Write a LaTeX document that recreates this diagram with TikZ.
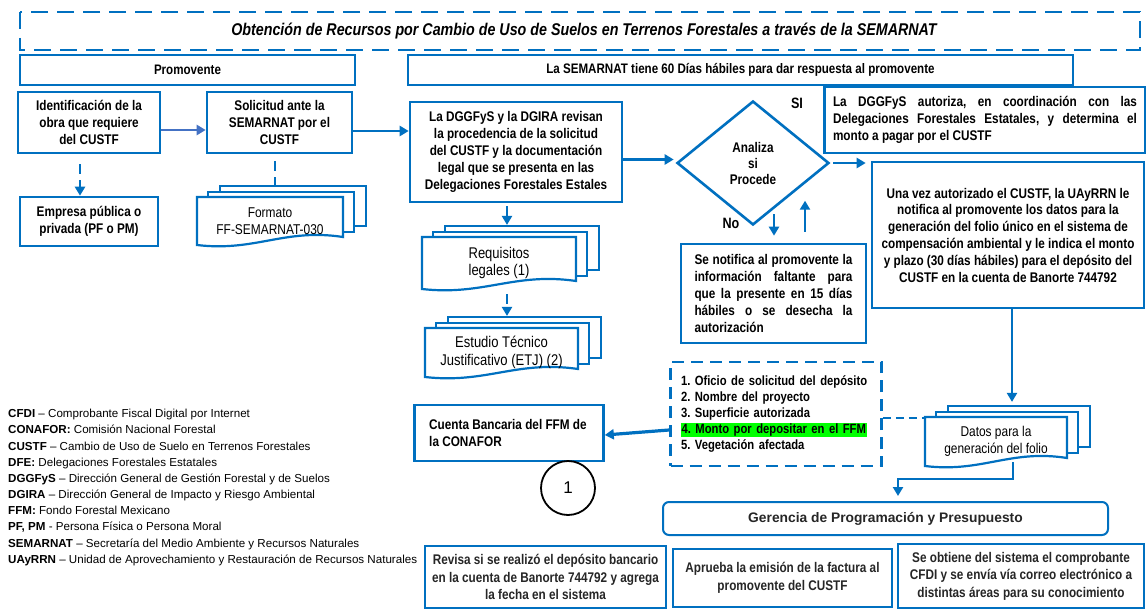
\documentclass[tikz,border=0pt]{standalone}
\usepackage{fontspec}
\setmainfont{Liberation Sans}
\newfontfamily\narrowfont{Liberation Sans}[FakeStretch=0.84]
\usetikzlibrary{shapes.geometric,arrows.meta,calc,fit}
\definecolor{mblue}{HTML}{0070C0}
\definecolor{lblue}{HTML}{4472C4}
\definecolor{dgray}{HTML}{262626}
\definecolor{hlgreen}{HTML}{00FF00}
\hyphenpenalty=10000
\exhyphenpenalty=10000
\frenchspacing
\tikzset{
  box/.style={draw=mblue, line width=2.6pt, fill=white, inner sep=0pt, align=center,
    font=\narrowfont\bfseries\fontsize{14}{16.8}\selectfont},
  hdr/.style={box, font=\narrowfont\bfseries\fontsize{13.8}{16}\selectfont},
  lowbox/.style={draw=mblue, line width=2pt, fill=white, inner sep=0pt, align=center, text=dgray,
    font=\narrowfont\bfseries\fontsize{14}{17.5}\selectfont},
  docl/.style={draw=mblue, line width=2.2pt, fill=white},
  doctext/.style={align=center, inner sep=0pt},
  arr/.style={draw=mblue, line width=2.5pt, -{Triangle[length=9pt,width=10pt]}},
  darr/.style={draw=mblue, line width=2.3pt, dash pattern=on 10pt off 6pt, -{Triangle[length=9pt,width=10pt]}},
  dline/.style={draw=mblue, line width=2.3pt, dash pattern=on 10pt off 6pt},
  lab/.style={inner sep=0pt, font=\narrowfont\bfseries\fontsize{15}{18}\selectfont},
  leg/.style={anchor=base west, inner sep=0pt, font=\fontsize{11.6}{14}\selectfont},
}
\newcommand\docstack[7]{%
  \node[docl, inner sep=0pt, fit={({#2+23},{#3-11}) ({#4+23},{#5-19})}] (#1b) {};
  \node[docl, inner sep=0pt, fit={({#2+11},{#3-5}) ({#4+11},{#5-13})}] (#1m) {};
  \draw[docl] (#2,#3) -- (#4,#3) -- (#4,{#5-8})
    .. controls ({#4-0.4*(#4-#2)},{#5-17}) and ({#2+0.4*(#4-#2)},{#5+7}) .. (#2,#5) -- cycle;
  \node[inner sep=0pt, fit={(#2,#3) (#4,#5)}] (#1) {};
  \node[doctext, font=\narrowfont\fontsize{#7}{17.5}\selectfont] (#1t) at ({(#2+#4)/2},{(#3+#5)/2}) {#6};
}
\begin{document}
\begin{tikzpicture}[x=1pt,y=-1pt]
\path[use as bounding box, fill=white] (0,0) rectangle (1146,610);

% title
\draw[draw=mblue, line width=2.6pt, dash pattern=on 17pt off 9pt] (20,12) rectangle (1140,50);
\node[inner sep=0pt, font=\narrowfont\bfseries\itshape\fontsize{17}{20}\selectfont] (title) at (584,31)
  {Obtención de Recursos por Cambio de Uso de Suelos en Terrenos Forestales a través de la SEMARNAT};

% headers
\node[hdr, minimum width=335pt, minimum height=30pt] (prom) at (187.5,70) {Promovente};
\node[hdr, minimum width=665pt, minimum height=30pt] (sem) at (740.5,70) {La SEMARNAT tiene 60 Días hábiles para dar respuesta al promovente};

% left column
\node[box, minimum width=142pt, minimum height=61pt] (ident) at (89,122.5) {Identificación de la\\obra que requiere\\del CUSTF};
\node[box, minimum width=145pt, minimum height=61pt] (soli) at (279.5,122.5) {Solicitud ante la\\SEMARNAT por el\\CUSTF};
\node[box, minimum width=138pt, minimum height=49pt] (emp) at (89,221.5) {Empresa pública o\\privada (PF o PM)};

\docstack{form}{197}{197}{343}{245}{Formato\\FF-SEMARNAT-030}{14.2}

% DGGFyS
\node[box, minimum width=212pt, minimum height=100pt] (dgg) at (516,152) {La DGGFyS y la DGIRA revisan\\la procedencia de la solicitud\\del CUSTF y la documentación\\legal que se presenta en las\\Delegaciones Forestales Estales};

\docstack{req}{422}{237}{576}{289}{Requisitos\\legales (1)}{15.5}
\docstack{etj}{425}{328}{578}{377}{Estudio Técnico\\Justificativo (ETJ) (2)}{15.5}

% diamond
\node[diamond, draw=mblue, line width=2.6pt, minimum width=152pt, minimum height=124pt, inner sep=0pt, align=center,
  font=\narrowfont\bfseries\fontsize{14}{16}\selectfont] (dia) at (753,163) {Analiza\\si\\Procede};
\node[lab] (si) at (797,103) {SI};
\node[lab] (no) at (731,223) {No};

% right
\node[box, minimum width=321pt, minimum height=66pt, text width=304pt, align=justify] (auth) at (985,120)
  {La DGGFyS autoriza, en coordinación con las\linebreak Delegaciones Forestales Estatales, y determina el\linebreak monto a pagar por el CUSTF};
\node[box, minimum width=272pt, minimum height=146pt] (una) at (1008,235)
  {Una vez autorizado el CUSTF, la UAyRRN le\\notifica al promovente los datos para la\\generación del folio único en el sistema de\\compensación ambiental y le indica el monto\\y plazo (30 días hábiles) para el depósito del\\CUSTF en la cuenta de Banorte 744792};
\node[box, minimum width=185pt, minimum height=99pt, text width=158pt, align=justify] (notif) at (773.5,293.5)
  {Se notifica al promovente la\linebreak información faltante para\linebreak que la presente en 15 días\linebreak hábiles o se desecha la\linebreak autorización};

% list
\node[draw=mblue, line width=2.6pt, dash pattern=on 12pt off 7pt, minimum width=211pt, minimum height=104pt, inner sep=0pt,
  text width=190pt, align=left, font=\narrowfont\bfseries\fontsize{13.4}{16.2}\selectfont] (list) at (776,414)
  {1. Oficio de solicitud del depósito\\2. Nombre del proyecto\\3. Superficie autorizada\\{\setlength{\fboxsep}{0.6pt}\colorbox{hlgreen}{4. Monto por depositar en el FFM}}\\5. Vegetación afectada};

\docstack{datos}{925}{417}{1067}{466}{Datos para la\\generación del folio}{14.2}

\node[box, minimum width=189pt, minimum height=56pt, align=left] (cuenta) at (509,433)
  {Cuenta Bancaria del FFM de\\la CONAFOR\hspace*{87pt}};
\node[circle, draw=black, line width=1.8pt, minimum size=54pt, inner sep=0pt, font=\fontsize{17}{20}\selectfont] (c1) at (568,488) {1};

% bottom
\node[draw=mblue, line width=2pt, rounded corners=6pt, fill=white, minimum width=445pt, minimum height=33pt, inner sep=0pt,
  text=dgray, font=\bfseries\fontsize{13.8}{16}\selectfont] (ger) at (885.5,518.5) {Gerencia de Programación y Presupuesto};
\node[lowbox, minimum width=241pt, minimum height=62pt] (b1) at (545.5,577) {Revisa si se realizó el depósito bancario\\en la cuenta de Banorte 744792 y agrega\\la fecha en el sistema};
\node[lowbox, minimum width=219pt, minimum height=58pt] (b2) at (782.5,578) {Aprueba la emisión de la factura al\\promovente del CUSTF};
\node[lowbox, minimum width=246pt, minimum height=64pt] (b3) at (1021,576) {Se obtiene del sistema el comprobante\\CFDI y se envía vía correo electrónico a\\distintas áreas para su conocimiento};

% legend
\node[leg] (l1) at (8,417) {\textbf{CFDI} – Comprobante Fiscal Digital por Internet};
\node[leg] (l2) at (8,433) {\textbf{CONAFOR:} Comisión Nacional Forestal};
\node[leg] (l3) at (8,450) {\textbf{CUSTF} – Cambio de Uso de Suelo en Terrenos Forestales};
\node[leg] (l4) at (8,466) {\textbf{DFE:} Delegaciones Forestales Estatales};
\node[leg] (l5) at (8,482) {\textbf{DGGFyS} – Dirección General de Gestión Forestal y de Suelos};
\node[leg] (l6) at (8,498) {\textbf{DGIRA} – Dirección General de Impacto y Riesgo Ambiental};
\node[leg] (l7) at (8,514) {\textbf{FFM:} Fondo Forestal Mexicano};
\node[leg] (l8) at (8,530) {\textbf{PF, PM} - Persona Física o Persona Moral};
\node[leg] (l9) at (8,547) {\textbf{SEMARNAT} – Secretaría del Medio Ambiente y Recursos Naturales};
\node[leg] (l10) at (8,563) {\textbf{UAyRRN} – Unidad de Aprovechamiento y Restauración de Recursos Naturales};

% connectors
\draw[arr, draw=lblue] ([yshift=-7.5pt]ident.east) -- ([yshift=-7.5pt]soli.west);
\draw[arr] ([yshift=-8.5pt]soli.east) coordinate (a1) -- (a1 -| dgg.west);
\draw[darr] ([xshift=-9pt,yshift=-10pt]ident.south) coordinate (a2) -- (a2 |- emp.north);
\draw[dline] ([xshift=-4.5pt,yshift=-7pt]soli.south) coordinate (a3) -- (a3 |- formb.north);
\draw[darr] ([xshift=-9pt,yshift=-3pt]dgg.south) coordinate (a4) -- (a4 |- reqb.north);
\draw[darr] ([xshift=8pt,yshift=-5pt]req.south) coordinate (a5) -- (a5 |- etjb.north);
\draw[arr, shorten >=2pt] ([yshift=-7.5pt]dgg.east) coordinate (a6) -- (a6 -| dia.west);
\draw[arr, shorten <=3pt, shorten >=5pt] (dia.east) -- (dia.east -| una.west);
\draw[arr] ($(dia.south)+(21,-12)$) coordinate (a7) -- ([yshift=7pt]a7 |- notif.north);
\draw[arr] ([xshift=31.5pt,yshift=11pt]notif.north) -- ([xshift=31.5pt,yshift=42pt]notif.north);
\draw[arr, shorten >=3pt] ([xshift=4pt]una.south) coordinate (a8) -- (a8 |- datosb.north);
\draw[draw=mblue, line width=1.3pt, dash pattern=on 8pt off 5pt] ([yshift=-4pt]list.east) coordinate (a9) -- (a9 -| datos.west);
\draw[arr] ([xshift=17pt,yshift=4pt]datos.south) |- ([xshift=12.5pt,yshift=22pt]ger.north) -- ([xshift=12.5pt,yshift=5pt]ger.north);
\draw[arr, line width=3.2pt] ([yshift=-16pt]list.west) -- ([yshift=-2pt]cuenta.east);
\end{tikzpicture}
\end{document}
